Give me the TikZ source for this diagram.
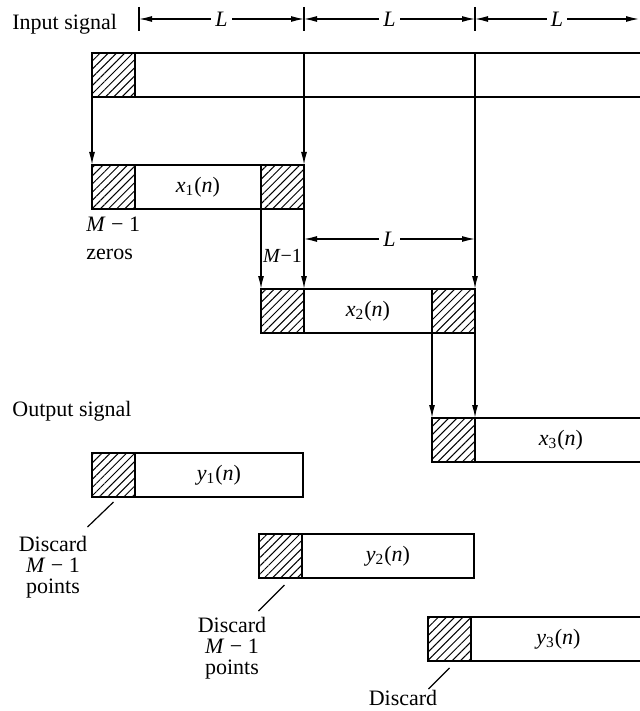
\documentclass[tikz,border=0pt]{standalone}
\usepackage{fontspec}
\setmainfont{Liberation Serif}
\usetikzlibrary{arrows.meta, positioning, patterns.meta}
\newcommand{\sigpart}[2]{\textit{#1}\textsubscript{#2}(\textit{n})}

\begin{document}
\begin{tikzpicture}[
  x=0.5pt, y=-0.5pt,
  font=\fontsize{11}{13.5}\selectfont,
  pad/.style={draw, line width=0.8pt, outer sep=0pt, inner sep=0pt,
              minimum width=21.5pt, minimum height=22pt,
              pattern={Lines[angle=45, distance=2.9pt, line width=0.5pt]}},
  body/.style={draw, line width=0.8pt, outer sep=0pt, inner sep=0pt, minimum height=22pt},
  arrow/.style={-{Latex[length=6.5pt, width=3pt]}, line width=0.7pt},
  dimline/.style={{Latex[length=6.5pt, width=3pt]}-{Latex[length=6.5pt, width=3pt]}, line width=0.6pt},
  note/.style={line width=0.6pt},
  lab/.style={align=center, inner sep=1pt}
]
\useasboundingbox (0,0) rectangle (639,711);

% input signal
\node[anchor=base west, inner sep=0pt] (insig) at (12,30) {Input signal};
\node[pad, anchor=north west] (in0) at (92,53) {};
\node[body, right=0pt of in0, minimum width=262.5pt] (in1) {};

% overlapping input blocks
\node[pad, below=34pt of in0] (x1a) {};
\node[body, right=0pt of x1a, minimum width=63pt] (x1) {\sigpart{x}{1}};
\node[pad, right=0pt of x1] (x1b) {};
\node[pad, below=40pt of x1b] (x2a) {};
\node[body, right=0pt of x2a, minimum width=64pt] (x2) {\sigpart{x}{2}};
\node[pad, right=0pt of x2] (x2b) {};
\node[pad, below=42.5pt of x2b] (x3a) {};
\node[body, right=0pt of x3a, minimum width=86pt] (x3) {\sigpart{x}{3}};

\draw[arrow] (in0.south west) -- (x1a.north west);
\draw[arrow] (in1.north -| x1b.north east) -- (x1b.north east);
\draw[arrow] (x1b.south west) -- (x2a.north west);
\draw[arrow] (x1b.south east) -- (x2a.north east);
\draw[arrow] (in1.north -| x2b.north east) -- (x2b.north east);
\draw[arrow] (x2b.south west) -- (x3a.north west);
\draw[arrow] (x2b.south east) -- (x3a.north east);

% block length marks
\coordinate (t0) at (139,19);
\coordinate (t1) at (t0 -| x1b.east);
\coordinate (t2) at (t0 -| x2b.east);
\coordinate (t3) at (639,19);
\foreach \t in {t0,t1,t2}
  \draw[note] ([yshift=6pt]\t) -- ([yshift=-6pt]\t);
\foreach \a/\b in {t0/t1,t1/t2,t2/t3}
  \draw[dimline] (\a) -- (\b) node[midway, fill=white, inner sep=2pt] {\textit{L}};
\coordinate[below=15pt of x1b.south east] (m0);
\draw[dimline] (m0) -- (m0 -| x2b.east) node[midway, fill=white, inner sep=2pt] {\textit{L}};

\node[below=20pt of x1b.south, inner sep=0pt, font=\fontsize{10}{12}\selectfont] (mgap) {\textit{M}−1};
\node[lab, align=left, anchor=north west, font=\fontsize{11}{14}\selectfont]
  (zeros) at ([xshift=-4pt, yshift=-3pt]x1a.south west) {\textit{M} − 1\\zeros};

% output signal
\node[anchor=base west, inner sep=0pt] (outsig) at (12,416) {Output signal};
\node[pad, anchor=north west] (y1a) at (92,453) {};
\node[body, right=0pt of y1a, minimum width=84pt] (y1) {\sigpart{y}{1}};
\node[pad, anchor=north west] (y2a) at (259,534) {};
\node[body, right=0pt of y2a, minimum width=86pt] (y2) {\sigpart{y}{2}};
\node[pad, anchor=north west] (y3a) at (428,617) {};
\node[body, right=0pt of y3a, minimum width=87.5pt] (y3) {\sigpart{y}{3}};

% discarded points
\draw[note] ([yshift=-2.5pt]y1a.south) -- ++(-26,25) coordinate (d1);
\node[lab, anchor=north, font=\fontsize{11}{10.5}\selectfont] (disc1) at (53,534) {Discard\\\textit{M} − 1\\points};
\draw[note] ([xshift=2pt, yshift=-3.5pt]y2a.south) -- ++(-26,26) coordinate (d2);
\node[lab, anchor=north, font=\fontsize{11}{10.5}\selectfont] (disc2) at (232,615) {Discard\\\textit{M} − 1\\points};
\draw[note] ([yshift=-3.5pt]y3a.south) -- ++(-21,21) coordinate (d3);
\node[lab, anchor=north] (disc3) at (403,688) {Discard};
\end{tikzpicture}
\end{document}
